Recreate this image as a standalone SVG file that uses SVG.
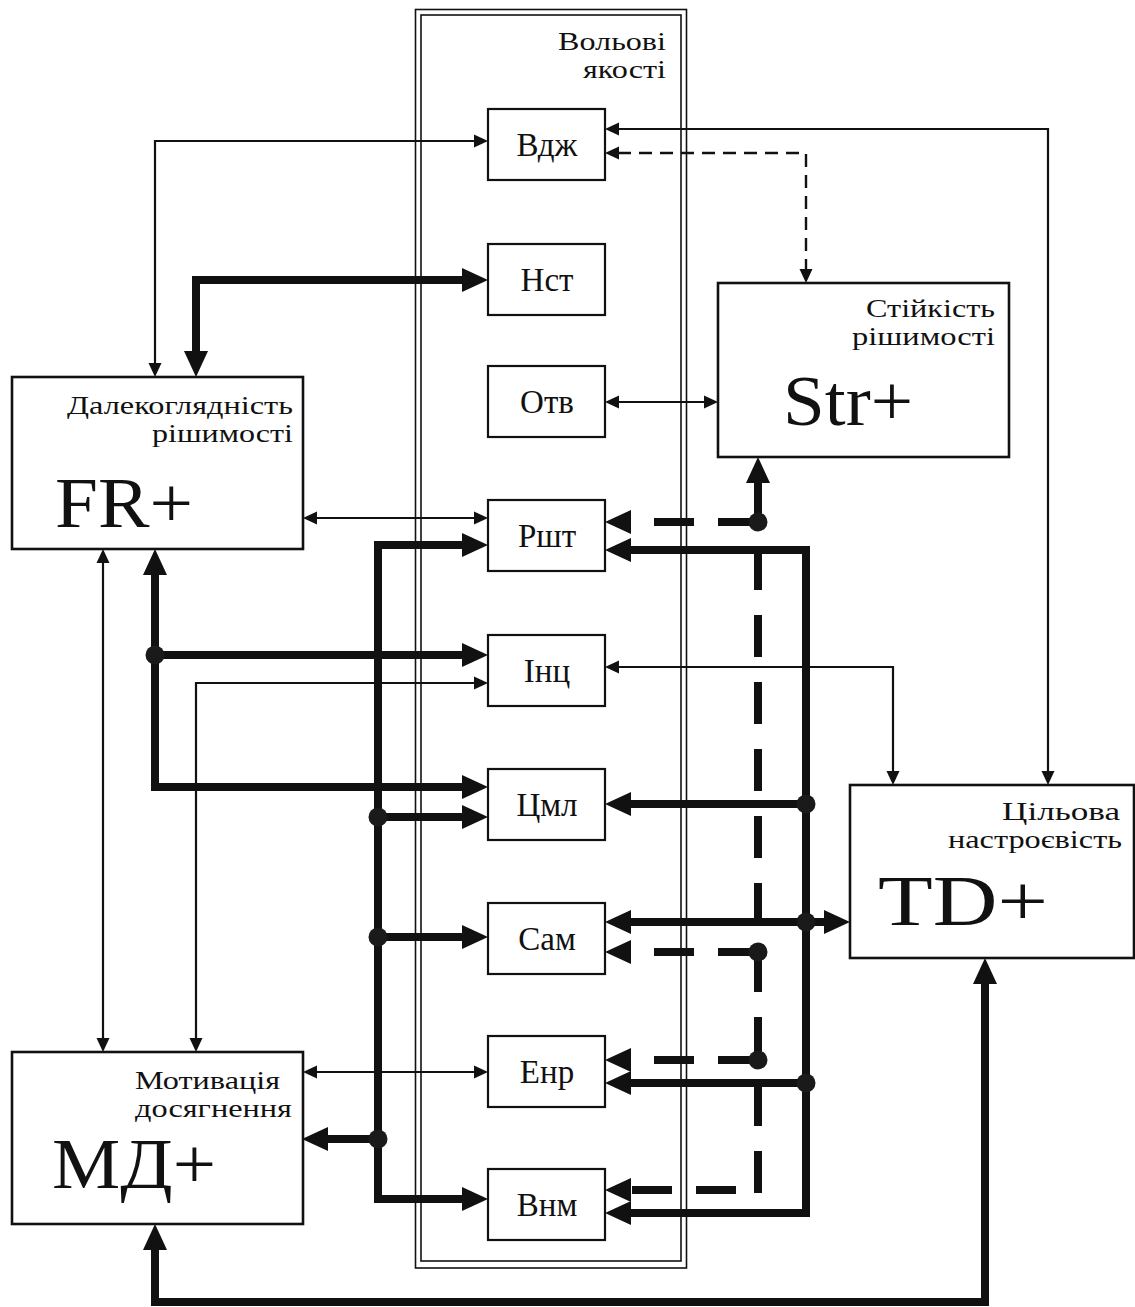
<svg xmlns="http://www.w3.org/2000/svg" width="1135" height="1307" viewBox="0 0 1135 1307">
<defs>
<style>
.frame{fill:none;stroke:#111;stroke-width:1.6}
.box{fill:#fff;stroke:#111;stroke-width:2.2}
.big{fill:#fff;stroke:#111;stroke-width:2.6}
text{font-family:'Liberation Serif',serif;fill:#111}
.sm{font-size:33px;text-anchor:middle}
.cap{font-size:25px;text-anchor:end}
.capl{font-size:25px;text-anchor:start}
.huge{font-size:72px}
.thin{fill:none;stroke:#111;stroke-width:2.2;marker-start:url(#at);marker-end:url(#at)}
.thindash{fill:none;stroke:#111;stroke-width:2.4;stroke-dasharray:13 8;marker-start:url(#at);marker-end:url(#at)}
.thick{fill:none;stroke:#111;stroke-width:8}
.dash{fill:none;stroke:#111;stroke-width:8;stroke-dasharray:40 24}
.dot{fill:#1a1a1a}
</style>
<marker id="at" markerUnits="userSpaceOnUse" markerWidth="16" markerHeight="14" refX="1" refY="6.5" orient="auto-start-reverse" overflow="visible">
<path d="M0,0 L14,6.5 L0,13 z" fill="#111"/>
</marker>
<marker id="ah" markerUnits="userSpaceOnUse" markerWidth="28" markerHeight="26" refX="1" refY="12" orient="auto-start-reverse" overflow="visible">
<path d="M0,0 L26,12 L0,24 z" fill="#111"/>
</marker>
</defs>
<rect width="1135" height="1307" fill="#fff"/>
<g id="frame" font-family="'Liberation Serif', serif">
<rect class="frame" x="415.5" y="9.5" width="271" height="1258.5"/>
<rect class="frame" x="421" y="15" width="260" height="1246"/>
<text class="cap" x="666" y="50" textLength="108" lengthAdjust="spacingAndGlyphs">Вольові</text>
<text class="cap" x="666" y="78" textLength="83" lengthAdjust="spacingAndGlyphs">якості</text>
</g>
<g id="connectors">
<path class="thin" d="M155,364 V141 H475"/>
<path class="thin" d="M618,129 H1048 V772"/>
<path class="thindash" d="M618,153 H806 V270"/>
<path class="thin" d="M618,402 H705"/>
<path class="thin" d="M316,518 H475"/>
<path class="thin" d="M103,562 V1039"/>
<path class="thin" d="M196,1039 V683 H475"/>
<path class="thin" d="M618,667 H893 V772"/>
<path class="thin" d="M316,1072 H475"/>
<path class="thick" d="M196,352 V280 H463" marker-start="url(#ah)" marker-end="url(#ah)"/>
<path class="thick" d="M155,574 V787 H463" marker-start="url(#ah)" marker-end="url(#ah)"/>
<path class="thick" d="M155,655 H463" marker-end="url(#ah)"/>
<path class="thick" d="M463,545 H378 V1199 H463" marker-start="url(#ah)" marker-end="url(#ah)"/>
<path class="thick" d="M378,817 H463" marker-end="url(#ah)"/>
<path class="thick" d="M378,937 H463" marker-end="url(#ah)"/>
<path class="thick" d="M378,1139 H327" marker-end="url(#ah)"/>
<path class="thick" d="M630,550 H806 V1213 H630" marker-start="url(#ah)" marker-end="url(#ah)"/>
<path class="thick" d="M806,804 H630" marker-end="url(#ah)"/>
<path class="thick" d="M806,1083 H630" marker-end="url(#ah)"/>
<path class="thick" d="M630,922 H825" marker-start="url(#ah)" marker-end="url(#ah)"/>
<path class="thick" d="M758,522 V482" marker-end="url(#ah)"/>
<path class="thick" d="M985,983 V1302 H155 V1249" marker-start="url(#ah)" marker-end="url(#ah)"/>
<path class="dash" d="M758,548 V1193" style="stroke-dasharray:42 25"/>
<path class="dash" d="M758,522 H630" marker-end="url(#ah)"/>
<path class="dash" d="M758,952 H630" marker-end="url(#ah)"/>
<path class="dash" d="M758,1060 H630" marker-end="url(#ah)"/>
<path class="dash" d="M736,1190 H630" marker-end="url(#ah)"/>
<circle class="dot" cx="155" cy="655" r="9.5"/>
<circle class="dot" cx="378" cy="817" r="9.5"/>
<circle class="dot" cx="378" cy="937" r="9.5"/>
<circle class="dot" cx="378" cy="1139" r="9.5"/>
<circle class="dot" cx="806" cy="804" r="9.5"/>
<circle class="dot" cx="806" cy="922" r="9.5"/>
<circle class="dot" cx="806" cy="1083" r="9.5"/>
<circle class="dot" cx="758" cy="522" r="9.5"/>
<circle class="dot" cx="758" cy="952" r="9.5"/>
<circle class="dot" cx="758" cy="1060" r="9.5"/>
</g>
<g id="n-vdzh"><rect class="box" x="488" y="109" width="117" height="71"/><text class="sm" x="547" y="156">Вдж</text></g>
<g id="n-nst"><rect class="box" x="488" y="244" width="117" height="71"/><text class="sm" x="547" y="291">Нст</text></g>
<g id="n-otv"><rect class="box" x="488" y="366" width="117" height="71"/><text class="sm" x="547" y="413">Отв</text></g>
<g id="n-rsht"><rect class="box" x="488" y="500" width="117" height="71"/><text class="sm" x="547" y="547">Ршт</text></g>
<g id="n-inc"><rect class="box" x="488" y="635" width="117" height="71"/><text class="sm" x="547" y="682">Інц</text></g>
<g id="n-cml"><rect class="box" x="488" y="769" width="117" height="71"/><text class="sm" x="547" y="816">Цмл</text></g>
<g id="n-sam"><rect class="box" x="488" y="903" width="117" height="71"/><text class="sm" x="547" y="950">Сам</text></g>
<g id="n-enr"><rect class="box" x="488" y="1036" width="117" height="71"/><text class="sm" x="547" y="1083">Енр</text></g>
<g id="n-vnm"><rect class="box" x="488" y="1169" width="117" height="71"/><text class="sm" x="547" y="1216">Внм</text></g>
<g id="n-fr">
<rect class="big" x="12" y="377" width="291" height="172"/>
<text class="cap" x="293" y="414" textLength="226" lengthAdjust="spacingAndGlyphs">Далекоглядність</text>
<text class="cap" x="293" y="442" textLength="141" lengthAdjust="spacingAndGlyphs">рішимості</text>
<text class="huge" x="55" y="527" textLength="138" lengthAdjust="spacingAndGlyphs">FR+</text>
</g>
<g id="n-str">
<rect class="big" x="718" y="283" width="291" height="174"/>
<text class="cap" x="995" y="317" textLength="129" lengthAdjust="spacingAndGlyphs">Стійкість</text>
<text class="cap" x="995" y="345" textLength="143" lengthAdjust="spacingAndGlyphs">рішимості</text>
<text class="huge" x="783" y="425" textLength="130" lengthAdjust="spacingAndGlyphs">Str+</text>
</g>
<g id="n-td">
<rect class="big" x="850" y="785" width="284" height="173"/>
<text class="cap" x="1120" y="820" textLength="118" lengthAdjust="spacingAndGlyphs">Цільова</text>
<text class="cap" x="1122" y="848" textLength="174" lengthAdjust="spacingAndGlyphs">настроєвість</text>
<text class="huge" x="878" y="925" textLength="170" lengthAdjust="spacingAndGlyphs">TD+</text>
</g>
<g id="n-md">
<rect class="big" x="12" y="1052" width="291" height="172"/>
<text class="capl" x="135" y="1089" textLength="145" lengthAdjust="spacingAndGlyphs">Мотивація</text>
<text class="capl" x="135" y="1117" textLength="157" lengthAdjust="spacingAndGlyphs">досягнення</text>
<text class="huge" x="52" y="1188" textLength="164" lengthAdjust="spacingAndGlyphs">МД+</text>
</g>
</svg>
